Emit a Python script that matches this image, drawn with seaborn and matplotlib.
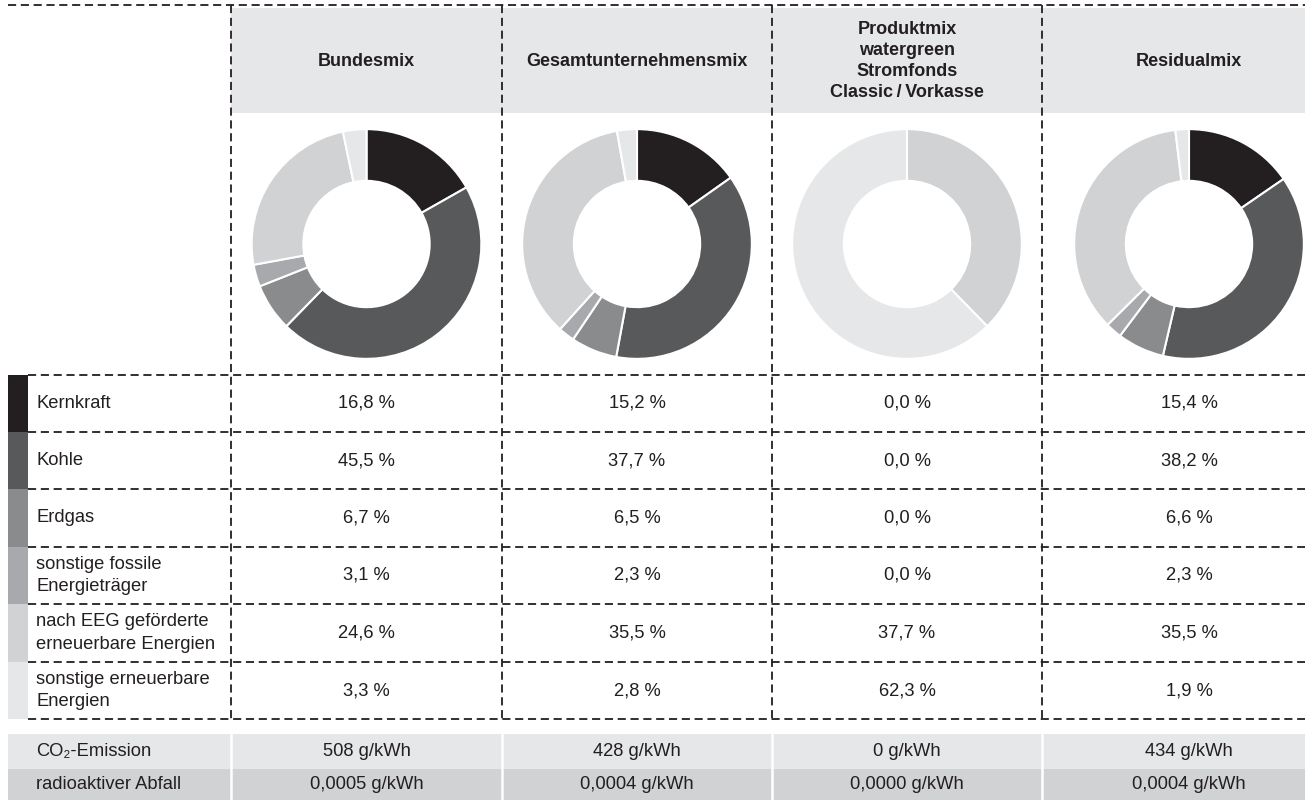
import matplotlib
matplotlib.use("Agg")
import matplotlib.pyplot as plt
from matplotlib.patches import Rectangle
import seaborn as sns

# ---------------- data ----------------
columns = ["Bundesmix", "Gesamtunternehmensmix",
           "Produktmix\nwatergreen\nStromfonds\nClassic\u2009/\u2009Vorkasse", "Residualmix"]
categories = ["Kernkraft", "Kohle", "Erdgas", "sonstige fossile\nEnergieträger",
              "nach EEG geförderte\nerneuerbare Energien", "sonstige erneuerbare\nEnergien"]
bundesmix = [16.8, 45.5, 6.7, 3.1, 24.6, 3.3]
gesamtmix = [15.2, 37.7, 6.5, 2.3, 35.5, 2.8]
produktmix = [0.0, 0.0, 0.0, 0.0, 37.7, 62.3]
residualmix = [15.4, 38.2, 6.6, 2.3, 35.5, 1.9]
co2_labels = ["508 g/kWh", "428 g/kWh", "0 g/kWh", "434 g/kWh"]
waste_labels = ["0,0005 g/kWh", "0,0004 g/kWh", "0,0000 g/kWh", "0,0004 g/kWh"]
row_labels_bottom = ["CO\u2082-Emission", "radioaktiver Abfall"]
palette = ["#231f20", "#58595b", "#8a8b8d", "#a7a9ac", "#d1d2d4", "#e6e7e8"]

series = [bundesmix, gesamtmix, produktmix, residualmix]

# ---------------- style ----------------
sns.set_theme(style="white")
plt.rcParams["font.family"] = ["Liberation Sans", "DejaVu Sans"]
TXT = "#231f20"
FS = 13.2
FSB = 13.0

W, H = 1305, 800
fig = plt.figure(figsize=(W / 100, H / 100), dpi=100)
fig.patch.set_facecolor("white")
ax = fig.add_axes([0, 0, 1, 1])
ax.set_xlim(0, W)
ax.set_ylim(H, 0)
ax.axis("off")

col_edges = [231, 502, 772, 1042]
col_centers = [366.5, 637, 907, 1189]
row_lines = [375, 432, 489, 547, 604, 662, 719]

dash_kw = dict(color=TXT, linewidth=1.3, linestyle=(0, (4.5, 2.6)), zorder=5)

# header band
ax.add_patch(Rectangle((231, 8), W - 231, 105, facecolor="#e6e7e8", edgecolor="none", zorder=1))
for name, cx in zip(columns, col_centers):
    ax.text(cx, 61, name, ha="center", va="center", fontsize=FSB, fontweight="bold",
            color=TXT, linespacing=1.32, zorder=6)

# top dashed line
ax.plot([8, W], [5, 5], **dash_kw)
# row dashed lines
for y in row_lines:
    ax.plot([28, W], [y, y], **dash_kw)
# vertical dashed lines
for x in col_edges:
    ax.plot([x, x], [5, 719], **dash_kw)

# swatches + labels + values
for i, (cat, col) in enumerate(zip(categories, palette)):
    y0, y1 = row_lines[i], row_lines[i + 1]
    ax.add_patch(Rectangle((8, y0), 20, y1 - y0, facecolor=col, edgecolor="none", zorder=2))
    yc = (y0 + y1) / 2
    ax.text(36, yc, cat, ha="left", va="center", fontsize=FS, color=TXT, linespacing=1.4)
    for s, cx in zip(series, col_centers):
        ax.text(cx, yc, f"{s[i]:.1f} %".replace(".", ","), ha="center", va="center",
                fontsize=FS, color=TXT)

# bottom table
bottom_rows = [(734, 769, "#e6e7e8", co2_labels), (769, 800, "#d1d2d4", waste_labels)]
for (y0, y1, col, labels), rl in zip(bottom_rows, row_labels_bottom):
    ax.add_patch(Rectangle((8, y0), W - 8, y1 - y0, facecolor=col, edgecolor="none", zorder=1))
    yc = (y0 + y1) / 2
    ax.text(36, yc, rl, ha="left", va="center", fontsize=FS, color=TXT)
    for lab, cx in zip(labels, col_centers):
        ax.text(cx, yc, lab, ha="center", va="center", fontsize=FS, color=TXT)
for x in col_edges:
    ax.plot([x, x], [734, 800], color="white", linewidth=1.8, zorder=3)

# donuts
R = 116
cy = 244
for s, cx in zip(series, col_centers):
    pax = fig.add_axes([(cx - R) / W, 1 - (cy + R) / H, 2 * R / W, 2 * R / H])
    pax.pie(s, colors=palette, startangle=90, counterclock=False, radius=1,
            wedgeprops=dict(width=0.45, edgecolor="white", linewidth=1.5))
    pax.set_xlim(-1.01, 1.01)
    pax.set_ylim(-1.01, 1.01)
    pax.set_aspect("equal")
    pax.axis("off")

fig.savefig("out.png", dpi=100)
